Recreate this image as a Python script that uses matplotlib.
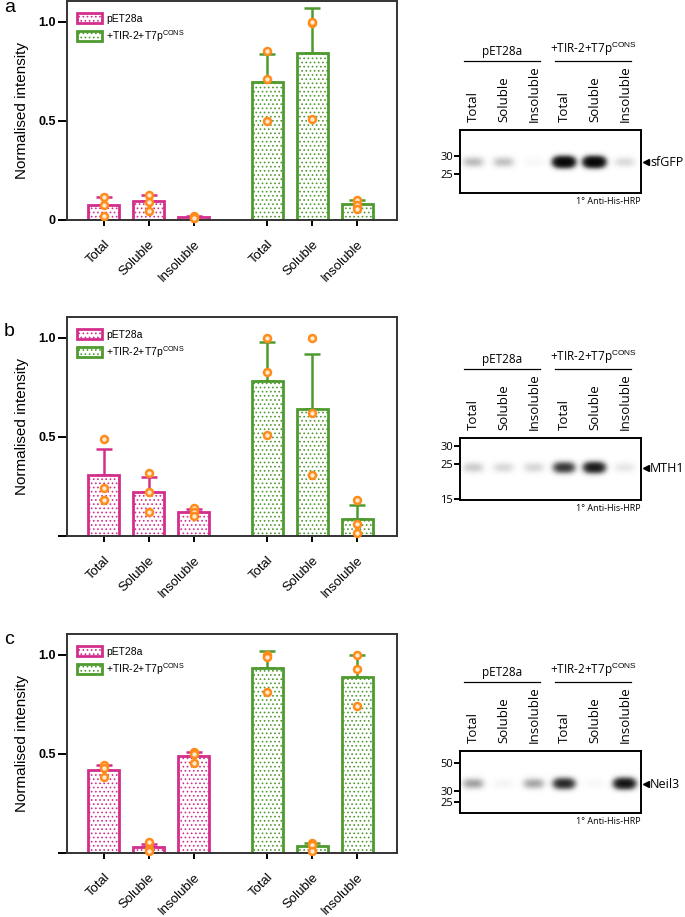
import numpy as np
import matplotlib
matplotlib.use("Agg")
import matplotlib.pyplot as plt
from matplotlib.patches import Patch

plt.rcParams["font.family"] = ["Liberation Sans", "DejaVu Sans"]
plt.rcParams["mathtext.fontset"] = "custom"
plt.rcParams["mathtext.rm"] = "Liberation Sans"
plt.rcParams["hatch.linewidth"] = 0.7

# ---- data ----
fractions = ["Total", "Soluble", "Insoluble"]
groups = ["pET28a", "+TIR-2+T7p$^{\\mathrm{CONS}}$"]
panels = ["a", "b", "c"]

# mean normalised intensity, per panel, per group
pet_mean = [[0.077, 0.095, 0.015], [0.31, 0.22, 0.12], [0.42, 0.03, 0.49]]
pet_sd = [[0.041, 0.030, 0.005], [0.13, 0.08, 0.015], [0.025, 0.015, 0.02]]
pet_pts = [
    [[0.118, 0.078, 0.02], [0.125, 0.09, 0.047], [0.02, 0.012, 0.008]],
    [[0.49, 0.24, 0.18], [0.32, 0.22, 0.12], [0.14, 0.12, 0.10]],
    [[0.445, 0.43, 0.385], [0.055, 0.02, 0.012], [0.51, 0.50, 0.455]],
]
t7_mean = [[0.697, 0.843, 0.08], [0.78, 0.64, 0.086], [0.935, 0.035, 0.89]]
t7_sd = [[0.143, 0.227, 0.02], [0.20, 0.28, 0.069], [0.085, 0.015, 0.11]]
t7_pts = [
    [[0.855, 0.71, 0.497], [0.995, 1.0, 0.51], [0.10, 0.075, 0.058]],
    [[1.0, 0.83, 0.51], [1.0, 0.62, 0.31], [0.18, 0.06, 0.015]],
    [[1.0, 0.99, 0.81], [0.05, 0.04, 0.01], [1.0, 0.93, 0.74]],
]

# western blots
proteins = ["sfGFP", "MTH1", "Neil3"]
mw_labels = [["30", "25"], ["30", "25", "15"], ["50", "30", "25"]]
mw_rows = [[26, 44], [8, 26, 61], [12, 40, 51]]
band_rows = [32, 30, 33]
band_levels = [
    [0.30, 0.27, 0.03, 3.5, 3.5, 0.15],
    [0.22, 0.16, 0.17, 1.5, 2.2, 0.10],
    [0.45, 0.04, 0.42, 1.8, 0.03, 2.5],
]

pink = "#d42e8c"
green = "#4f9a2f"
orange = "#ff8c1a"

W, H = 685, 917
fig = plt.figure(figsize=(W / 100, H / 100), dpi=100)


def px_axes(left, top, right, bottom):
    return fig.add_axes([left / W, 1 - bottom / H, (right - left) / W, (bottom - top) / H])


bar_tops = [1, 317, 634]
blot_tops = [130, 438, 751]
label_y = [8, 331, 639]

x_pet = np.arange(3)
x_t7 = np.arange(3) + 3.64
bw = 0.69

for i in range(3):
    top = bar_tops[i]
    ax = px_axes(67, top, 397, top + 219)

    for xs, means, sds, pts, col in [
        (x_pet, pet_mean[i], pet_sd[i], pet_pts[i], pink),
        (x_t7, t7_mean[i], t7_sd[i], t7_pts[i], green),
    ]:
        ax.bar(xs, means, width=bw, color="white", edgecolor=col, hatch="....",
               linewidth=2, zorder=2)
        ax.errorbar(xs, means, yerr=[np.zeros(3), sds], fmt="none", ecolor=col,
                    elinewidth=1.8, capsize=5.5, capthick=1.8, zorder=1)
        for x, p in zip(xs, pts):
            ax.plot([x] * len(p), p, "o", ms=5, mfc="#ffe9cf", mec=orange, mew=1.8,
                    zorder=3, clip_on=False)

    ax.set_xlim(-0.82, 6.53)
    ax.set_ylim(0, 1.105)
    ax.set_yticks([0, 0.5, 1.0])
    ax.set_yticklabels(["0" if i == 0 else "", "0.5", "1.0"], fontweight="bold", fontsize=9)
    ax.set_xticks(np.concatenate([x_pet, x_t7]))
    ax.set_xticklabels(fractions * 2, fontsize=9.5)
    plt.setp(ax.get_xticklabels(), rotation=45, ha="right", va="top", rotation_mode="anchor")
    ax.tick_params(axis="y", length=6.5, width=1.4, pad=1.5)
    ax.tick_params(axis="x", length=4.5, width=1.4, pad=8.5)
    for s in ax.spines.values():
        s.set_linewidth(1.4)
        s.set_color("#333333")
    ax.set_ylabel("Normalised intensity", fontsize=11, labelpad=7)

    handles = [Patch(facecolor="white", edgecolor=pink, hatch="....", linewidth=2),
               Patch(facecolor="white", edgecolor=green, hatch="....", linewidth=2)]
    ax.legend(handles, groups, loc="upper left", bbox_to_anchor=(10 / 330, 1 - 12 / 219),
              frameon=False, fontsize=7.5, handlelength=2.4, handleheight=1.1,
              handletextpad=0.4, labelspacing=0.4, borderpad=0, borderaxespad=0)

    fig.text(4 / W, 1 - label_y[i] / H, panels[i], fontsize=14, ha="left", va="center")

    # ---- blot ----
    btop = blot_tops[i]
    bh = 63 if i == 0 else 62
    bx = px_axes(460, btop, 641, btop + bh)
    x0, x1 = -0.43, 5.53
    xx = np.linspace(x0, x1, 360)
    yy = np.linspace(0, bh, 130)
    X, Y = np.meshgrid(xx, yy)
    dens = np.zeros_like(X)
    for lane, lev in enumerate(band_levels[i]):
        prof = np.exp(-(np.abs(X - lane) / 0.33) ** 3) * np.exp(-((Y - band_rows[i]) / 4.8) ** 2)
        dens += lev * prof
    dark = 1 - np.exp(-dens)
    bx.imshow(dark, cmap="gray_r", vmin=0, vmax=1, extent=(x0, x1, bh, 0),
              aspect="auto", interpolation="bilinear")
    bx.set_xlim(x0, x1)
    bx.set_ylim(bh, 0)
    bx.set_xticks([])
    bx.set_yticks(mw_rows[i])
    bx.set_yticklabels(mw_labels[i], fontsize=8, family="Open Sans")
    bx.tick_params(axis="y", length=4, width=1.4, pad=1)
    for s in bx.spines.values():
        s.set_linewidth(1.4)

    for lane, name in enumerate(fractions * 2):
        bx.text(lane, -8, name, rotation=90, ha="center", va="bottom", fontsize=9.5,
                family="Open Sans", clip_on=False)
    for (a0, a1), name in zip([(-0.3, 2.2), (2.7, 5.2)], groups):
        bx.plot([a0, a1], [-69, -69], color="black", lw=0.9, clip_on=False)
        bx.text((a0 + a1) / 2, -72, name, ha="center", va="bottom", fontsize=8.5,
                family="Open Sans", clip_on=False)
    bx.plot(x1 + 0.15, band_rows[i], marker="<", ms=4.5, color="black", clip_on=False)
    bx.text(x1 + 0.3, band_rows[i], proteins[i], ha="left", va="center", fontsize=9,
            family="Open Sans", clip_on=False)
    bx.text(x1, bh + 4, "1° Anti-His-HRP", ha="right", va="top", fontsize=6.5,
            family="Open Sans", clip_on=False)

fig.savefig("out.png", dpi=100)
